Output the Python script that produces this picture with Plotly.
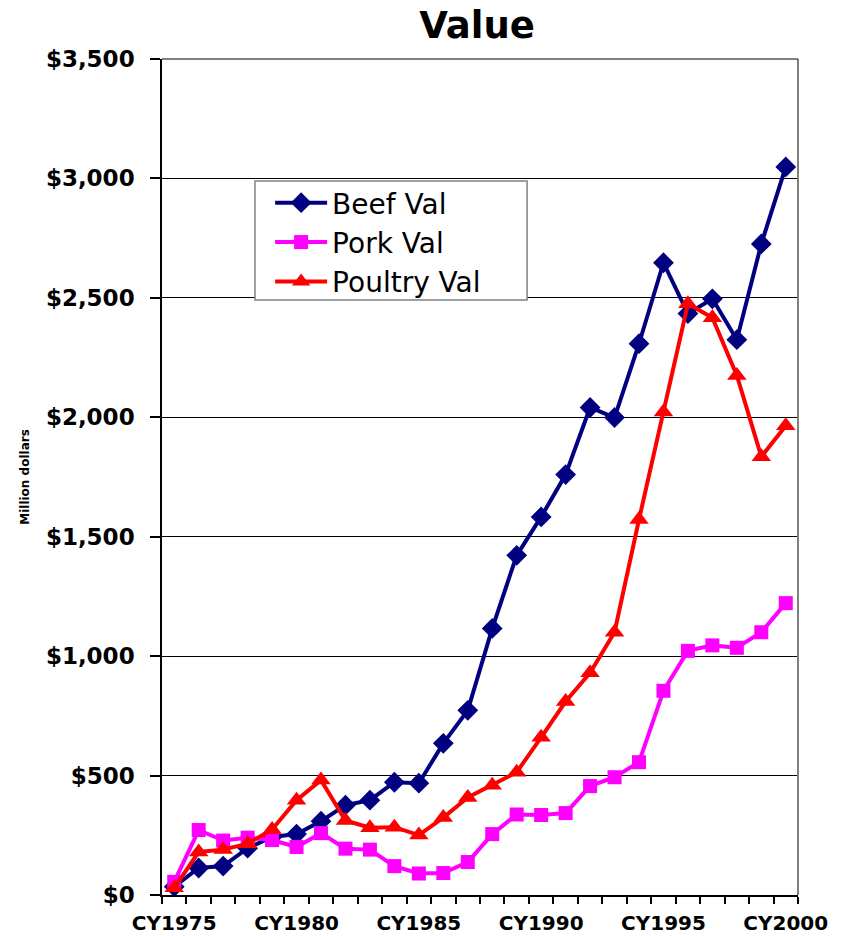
import plotly.graph_objects as go

years = list(range(1975, 2001))
tick_years = [1975, 1980, 1985, 1990, 1995, 2000]
tick_labels = ["CY1975", "CY1980", "CY1985", "CY1990", "CY1995", "CY2000"]

beef_val = [35, 113, 121, 196, 243, 255, 309, 376, 397, 472, 468, 635, 773, 1116,
            1422, 1583, 1760, 2041, 1999, 2308, 2647, 2434, 2496, 2325, 2726, 3048]
pork_val = [55, 272, 228, 240, 230, 201, 259, 194, 190, 121, 90, 92, 138, 255,
            337, 335, 343, 456, 493, 556, 855, 1022, 1045, 1035, 1100, 1222]
poultry_val = [30, 180, 190, 215, 274, 397, 481, 312, 282, 284, 251, 324, 408, 460,
               514, 660, 810, 930, 1100, 1572, 2022, 2475, 2417, 2175, 1835, 1965]

FONT = "DejaVu Sans"

fig = go.Figure()
fig.add_trace(go.Scatter(x=years, y=beef_val, name="Beef Val", mode="lines+markers",
                         line=dict(color="#000080", width=4),
                         marker=dict(symbol="diamond", size=16, color="#000080")))
fig.add_trace(go.Scatter(x=years, y=pork_val, name="Pork Val", mode="lines+markers",
                         line=dict(color="#FF00FF", width=4),
                         marker=dict(symbol="square", size=14, color="#FF00FF")))
fig.add_trace(go.Scatter(x=years, y=poultry_val, name="Poultry Val", mode="lines+markers",
                         line=dict(color="#FF0000", width=4),
                         marker=dict(symbol="triangle-up", size=17, color="#FF0000")))
# invisible trace to anchor secondary x axis (tick labels)
fig.add_trace(go.Scatter(x=[years[0], years[-1]], y=[None, None], xaxis="x2",
                         showlegend=False, hoverinfo="skip", mode="markers"))

fig.update_layout(
    width=846, height=936,
    margin=dict(l=154, r=56, t=51, b=49, autoexpand=False),
    paper_bgcolor="white", plot_bgcolor="white",
    title=dict(text="<b>Value</b>", x=0.5544, xanchor="center", y=1.0, yanchor="top",
               pad=dict(t=4),
               font=dict(family=FONT, size=37, color="black")),
    showlegend=True,
    legend=dict(x=0.170, y=0.8577, xanchor="left", yanchor="top",
                bgcolor="rgba(0,0,0,0)", borderwidth=0,
                font=dict(family=FONT, size=28, color="black"),
                itemwidth=52, tracegroupgap=0),
    xaxis=dict(range=[1974.5, 2000.5], tickmode="array",
               tickvals=[y + 0.5 for y in range(1974, 2001)],
               showticklabels=False, ticks="outside", ticklen=7, tickcolor="black",
               tickwidth=1.5, showgrid=False, showline=True, linecolor="black",
               linewidth=1.5, zeroline=False, automargin=False),
    xaxis2=dict(range=[1974.5, 2000.5], overlaying="x", side="bottom", anchor="y",
                tickmode="array", tickvals=tick_years, ticktext=tick_labels,
                ticks="outside", ticklen=10, tickcolor="rgba(0,0,0,0)",
                showgrid=False, showline=False, zeroline=False, automargin=False,
                tickfont=dict(family=FONT, size=20, color="black", weight="bold")),
    yaxis=dict(range=[0, 3500], tickmode="linear", tick0=0, dtick=500,
               tickprefix="$", tickformat=",", ticks="outside", ticklen=10,
               tickcolor="black", tickwidth=1.5,
               showgrid=True, gridcolor="black", gridwidth=1,
               showline=True, linecolor="black", linewidth=1.5, zeroline=False,
               ticklabelstandoff=11, automargin=False,
               tickfont=dict(family=FONT, size=23, color="black", weight="bold"),
               title=dict(text="Million dollars", standoff=14,
                          font=dict(family=FONT, size=12, color="black", weight="bold"))),
    shapes=[
        dict(type="line", xref="paper", yref="paper", x0=1, x1=1, y0=0, y1=1,
             line=dict(color="#808080", width=2)),
        dict(type="line", xref="paper", yref="paper", x0=0, x1=1, y0=1, y1=1,
             line=dict(color="black", width=1)),
        # legend frame
        dict(type="rect", xref="paper", yref="paper", x0=0.1462, x1=0.574,
             y0=0.7117, y1=0.854, fillcolor="white",
             line=dict(color="#808080", width=1.5), layer="above"),
    ],
)

fig.write_html("out.html")
